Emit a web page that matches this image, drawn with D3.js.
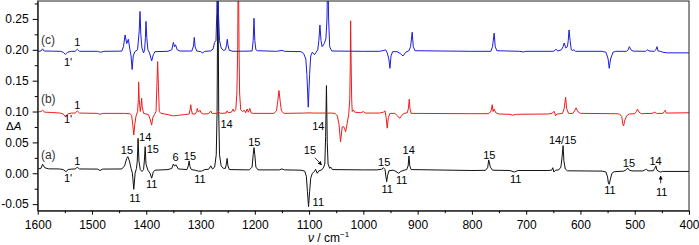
<!DOCTYPE html>
<html>
<head>
<meta charset="utf-8">
<script src="https://cdn.jsdelivr.net/npm/d3@7"></script>
<style>
  body { margin: 0; background: #fff; }
  svg text { font-family: "Liberation Sans", Arial, sans-serif; }
</style>
</head>
<body>
<div id="chart"></div>
<script>
// axis ticks
let xTicks = [1600, 1500, 1400, 1300, 1200, 1100, 1000, 900, 800, 700, 600, 500, 400];
let xMinor = [1550, 1450, 1350, 1250, 1150, 1050, 950, 850, 750, 650, 550, 450];
let yTicks = [-0.05, 0.00, 0.05, 0.10, 0.15, 0.20, 0.25];
let yMinor = [-0.025, 0.025, 0.075, 0.125, 0.175, 0.225, 0.275];

// spectrum (a), black : [wavenumber, dA]
let traceA = [
  [1600,0.007],[1594,0.008],[1591,0.0146],[1587,0.009],[1580,0.0072],
  [1560,0.007],[1553,0.006],[1548,0.0026],[1544,0.006],[1538,0.0068],
  [1531,0.007],[1527,0.0097],[1523,0.007],
  [1490,0.0068],[1485,0.0045],[1480,0.0068],
  [1445,0.007],[1440,0.012],[1436,0.024],[1434,0.027],[1431,0.02],[1428,0.008],
  [1425.5,0.0],[1423,-0.026],[1420.5,0.0],[1418,0.008],
  [1416.5,0.02],[1415,0.0567],[1413.5,0.02],[1411,0.006],[1408,0.003],[1405,0.006],
  [1403.5,0.02],[1402,0.043],[1400.5,0.015],[1397,0.005],
  [1393,0.0],[1390,-0.008],[1387,0.002],[1384,0.005],
  [1360,0.006],[1353,0.008],[1350,0.015],[1348,0.012],[1345,0.0135],[1341,0.007],
  [1325,0.006],[1322.5,0.012],[1321,0.020],[1319.5,0.011],[1317,0.006],
  [1310,0.005],[1304,0.0035],[1298,0.0035],[1292,0.006],
  [1285,0.0065],[1281,0.012],[1278,0.007],
  [1274,0.01],[1271,0.03],[1269.5,0.1],[1268,0.34],[1266.5,0.1],[1265,0.03],[1262,0.012],[1258,0.008],
  [1254,0.008],[1252.5,0.015],[1251,0.024],[1249.5,0.012],[1247,0.006],
  [1210,0.0055],[1205,0.01],[1203,0.03],[1201.5,0.0415],[1200,0.03],[1198,0.01],[1194,0.0055],
  [1155,0.0055],[1150,0.007],[1145,0.0055],
  [1115,0.005],[1108,0.0035],[1105,-0.005],[1103,-0.03],[1101,-0.054],[1099,-0.03],[1097,-0.008],[1094,0.0],
  [1090,0.003],[1088,0.0065],[1085,0.0],[1082,0.004],[1078,0.005],[1074,0.008],
  [1071,0.015],[1069.5,0.06],[1068,0.142],[1066.5,0.05],[1065,0.015],[1062,0.008],[1060,0.01],[1057,0.006],
  [1000,0.0055],[975,0.0055],[966,0.0065],[963,0.009],[960,0.006],[958.5,-0.005],[957,-0.0136],[955.5,-0.004],[953,0.004],
  [945,0.005],[940,0.003],[935,0.0],[931,0.003],[925,0.005],
  [920,0.006],[917.5,0.012],[916,0.028],[914.5,0.012],[912,0.006],
  [800,0.0045],[775,0.0048],[771,0.009],[769,0.0216],[766,0.01],[762,0.005],
  [730,0.0045],[722,0.002],[715,0.0045],
  [660,0.0045],[653,0.005],[651,0.009],[649,0.002],[646,0.005],
  [640,0.0055],[636,0.01],[634,0.025],[632,0.0447],[630.5,0.02],[628,0.007],[624,0.004],
  [560,0.0035],[553,0.002],[550,-0.006],[548.5,-0.016],[547,-0.0178],[545,-0.01],[542,0.0],[538,0.0025],
  [520,0.0035],[515,0.006],[513,0.0086],[510,0.005],[505,0.0038],
  [485,0.0038],[480,0.006],[478,0.0065],[476,0.004],
  [466,0.004],[463,0.008],[461,0.012],[459,0.005],[455,0.0028],[452,0.002],[449,0.003],
  [400,0.003]
];

// spectrum (b), red
let traceB = [
  [1600,0.0994],[1594,0.1],[1591,0.102],[1587,0.099],[1575,0.0985],
  [1558,0.0975],[1553,0.096],[1549,0.092],[1545,0.096],[1538,0.0975],
  [1531,0.0975],[1527,0.101],[1523,0.0975],
  [1490,0.097],[1485,0.0955],[1480,0.097],
  [1440,0.097],[1430,0.0965],[1427,0.094],[1425,0.08],[1423,0.062],[1421,0.08],[1419,0.092],
  [1416,0.1],[1414.5,0.12],[1414,0.148],[1413,0.12],[1411,0.1],[1409.5,0.11],[1408.5,0.1215],[1407.5,0.108],[1405,0.097],
  [1396,0.095],[1393,0.088],[1390,0.078],[1388,0.09],[1385,0.095],
  [1382,0.1],[1380.5,0.14],[1379,0.181],[1377.5,0.14],[1376,0.1],[1373,0.097],[1369,0.0965],
  [1360,0.095],[1350,0.093],[1340,0.094],[1330,0.095],
  [1321,0.096],[1319,0.104],[1318,0.111],[1317,0.104],[1315,0.096],
  [1310,0.096],[1307,0.1],[1306,0.105],[1304,0.099],[1301,0.102],[1299,0.098],[1295,0.096],
  [1285,0.0965],[1282,0.1],[1281,0.101],[1279,0.097],
  [1270,0.097],[1266,0.099],[1263,0.097],
  [1253,0.0975],[1251,0.101],[1249,0.098],
  [1243,0.099],[1240,0.104],[1238,0.1],[1235,0.103],[1233,0.13],[1231.5,0.2],[1230.4,0.36],[1229,0.2],[1228,0.13],[1226,0.103],[1223,0.1],
  [1219,0.102],[1217,0.098],[1214,0.104],[1212,0.099],[1209,0.105],[1207,0.098],[1203,0.097],
  [1165,0.097],[1160,0.101],[1158,0.115],[1155.5,0.134],[1153,0.115],[1151,0.101],[1146,0.097],
  [1110,0.0975],[1100,0.0978],[1090,0.0975],[1060,0.0975],[1052,0.097],[1048,0.093],[1045,0.08],
  [1042,0.051],[1039,0.075],[1036,0.0755],[1034.5,0.072],[1032.6,0.0674],[1030,0.08],[1027,0.095],
  [1025,0.12],[1024,0.18],[1023.4,0.247],[1022.5,0.18],[1021.5,0.12],[1020.5,0.1],[1018.6,0.1026],[1016,0.099],
  [1005,0.098],[1000,0.0998],[996,0.0975],
  [970,0.0975],[963,0.099],[960,0.101],[958,0.09],[956,0.073],[954,0.09],[951,0.097],
  [942,0.097],[937,0.093],[933,0.089],[929,0.094],[925,0.097],
  [919,0.098],[917,0.105],[915.4,0.12],[914,0.104],[912,0.097],
  [800,0.0965],[770,0.0965],[765,0.1],[762.5,0.111],[761,0.1],[759,0.104],[756,0.098],[750,0.096],
  [730,0.0955],[725,0.094],[718,0.0955],
  [660,0.096],[652,0.097],[650,0.0995],[648,0.1],[646,0.093],[643,0.096],
  [633,0.097],[630,0.105],[627.3,0.123],[625.5,0.105],[622,0.097],
  [614,0.097],[611,0.101],[608,0.106],[605,0.1],[600,0.097],
  [535,0.0965],[528,0.096],[524,0.092],[522,0.08],[520.5,0.0767],[518.5,0.085],[515,0.093],[510,0.096],
  [500,0.0965],[497,0.1],[495,0.104],[492,0.099],[488,0.0965],
  [468,0.097],[463,0.099],[460,0.097],
  [448,0.097],[445.5,0.1],[444,0.102],[442,0.0975],
  [400,0.098]
];

// spectrum (c), blue
let traceC = [
  [1600,0.1976],[1594,0.198],[1591,0.2015],[1588,0.198],[1575,0.1978],
  [1558,0.1975],[1553,0.196],[1549,0.1925],[1545,0.196],[1538,0.1975],
  [1531,0.1975],[1527,0.201],[1523,0.1975],
  [1490,0.1975],[1484,0.196],[1478,0.1975],
  [1445,0.1978],[1442,0.205],[1439,0.224],[1436,0.21],[1433,0.217],[1430,0.2],[1428,0.19],[1426,0.168],[1424,0.19],[1421,0.197],
  [1416,0.2],[1413,0.23],[1411.5,0.262],[1410,0.225],[1408,0.203],[1405,0.195],[1403,0.2],[1401.5,0.22],[1400.5,0.246],[1399,0.22],[1397,0.2],
  [1394,0.195],[1390,0.182],[1387,0.192],[1384,0.197],
  [1360,0.1975],[1353,0.2],[1350,0.212],[1348,0.205],[1346,0.208],[1343,0.2],[1338,0.198],
  [1316,0.198],[1313,0.206],[1311.5,0.22],[1310,0.205],[1307,0.198],
  [1300,0.197],[1296,0.195],[1292,0.1975],
  [1282,0.198],[1277,0.201],[1274,0.212],[1271.5,0.215],[1270,0.26],[1268.5,0.36],[1267,0.26],[1265,0.215],[1262,0.203],[1258,0.199],
  [1254,0.2],[1252,0.208],[1250.7,0.217],[1249.5,0.208],[1247,0.199],
  [1240,0.1975],[1205,0.198],[1203,0.215],[1201.5,0.251],[1200,0.215],[1198,0.2],[1195,0.1985],
  [1160,0.1975],[1150,0.199],[1145,0.1975],
  [1115,0.197],[1110,0.194],[1106,0.185],[1104,0.16],[1101.5,0.107],[1099,0.16],[1097,0.19],[1094,0.196],
  [1090,0.192],[1087,0.196],[1084,0.2],[1082,0.215],[1080,0.240],[1078,0.215],[1076,0.205],[1072,0.21],[1069,0.218],
  [1067,0.25],[1065.5,0.34],[1064,0.25],[1062,0.205],[1060,0.201],[1058,0.198],
  [1000,0.1975],[970,0.1975],[962,0.199],[959,0.2],[956,0.195],[953,0.185],[951,0.170],[949,0.19],[946,0.197],
  [938,0.197],[932,0.194],[927,0.19],[922,0.196],[916,0.1985],
  [913,0.205],[910,0.2285],[908,0.205],[905,0.1985],
  [800,0.1975],[765,0.1975],[762,0.205],[759,0.227],[757,0.205],[754,0.1985],
  [712,0.1975],[705,0.1965],[700,0.1975],
  [650,0.1975],[647,0.199],[645,0.201],[642,0.198],
  [635,0.2],[632,0.205],[630,0.211],[627,0.203],[624,0.205],[622.5,0.215],[621,0.232],[619,0.215],[617,0.2],[614,0.199],[612,0.2],[609,0.1975],
  [560,0.1975],[553,0.196],[549,0.185],[547,0.170],[544.5,0.185],[540,0.196],[535,0.1975],
  [515,0.1975],[512,0.2],[510,0.205],[507,0.2],[503,0.1978],
  [480,0.1975],[478,0.199],[476,0.2],[474,0.198],
  [464,0.1975],[461,0.2],[459,0.205],[457,0.198],[453,0.1975],
  [448,0.196],[440,0.195],[400,0.195]
];

// band labels : [wavenumber, dA, text]
let labelsA = [
  [1527,0.0135,"1"],[1544,-0.0141,"1'"],[1435.5,0.0313,"15"],[1402,0.0523,"14"],
  [1388,0.0329,"15"],[1390,-0.0238,"11"],[1420.7,-0.0466,"11"],[1345.8,0.0199,"6"],
  [1319.4,0.0216,"15"],[1301,-0.0157,"11"],[1252,0.0734,"14"],[1201,0.0442,"15"],
  [1098.4,0.0313,"15"],[1083,0.0702,"14"],[1083,-0.053,"11"],[961.5,0.0118,"15"],
  [956,-0.0319,"11"],[929.4,-0.017,"11"],[916.5,0.0313,"14"],[768,0.0232,"15"],
  [719.4,-0.0157,"11"],[632.8,0.0475,"14/15"],[545.7,-0.0336,"11"],[510.7,0.0102,"15"],
  [461.5,0.0135,"14"],[450.4,-0.0368,"11"]
];
let labelsB = [[1527,0.1042,"1"],[1544,0.0815,"1'"]];
let labelsC = [[1527,0.2063,"1"],[1544,0.1739,"1'"]];
let traceNames = [[1594,0.0232,"(a)"],[1594,0.1139,"(b)"],[1594,0.2096,"(c)"]];

// arrows : [from, to]
let arrows = [
  [[1089.2,0.0253],[1076.9,0.0135]],
  [[452.2,-0.0162],[452.2,-0.0044]]
];

let width = 699,
    height = 245;
let plotLeft = 37.7, plotRight = 689, plotTop = 1, plotBottom = 210.7;

let svg = d3.select("#chart")
    .append("svg")
    .attr("width", width)
    .attr("height", height);

let x = d3.scaleLinear()
    .domain([1600, 400])
    .range([plotLeft, plotRight]);

let y = d3.scaleLinear()
    .domain([-0.0606, 0.279])
    .range([plotBottom, plotTop]);

svg.append("clipPath")
    .attr("id", "plotclip")
    .append("rect")
    .attr("x", plotLeft).attr("y", plotTop)
    .attr("width", plotRight - plotLeft).attr("height", plotBottom - plotTop);

// spectra
let line = d3.line()
    .x(function(d) { return x(d[0]); })
    .y(function(d) { return y(d[1]); });

let traces = [[traceA, "#111111"], [traceB, "#ee1c1c"], [traceC, "#1c1cdd"]];
traces.forEach(function(t) {
  svg.append("path")
      .datum(t[0])
      .attr("clip-path", "url(#plotclip)")
      .attr("fill", "none")
      .attr("stroke", t[1])
      .attr("stroke-width", 1)
      .attr("stroke-linejoin", "round")
      .attr("d", line);
});

// frame
svg.append("rect")
    .attr("x", plotLeft).attr("y", plotTop)
    .attr("width", plotRight - plotLeft).attr("height", plotBottom - plotTop)
    .attr("fill", "none")
    .attr("stroke", "#222")
    .attr("stroke-width", 1);

// X axis
svg.append("g")
    .attr("transform", "translate(0," + plotBottom + ")")
    .call(d3.axisBottom(x).tickValues(xTicks).tickSize(4).tickSizeOuter(0).tickPadding(6)
      .tickFormat(function(d) { return d; }))
    .attr("font-size", 12)
    .attr("font-family", "Liberation Sans, Arial, sans-serif")
    .call(function(g) { g.select(".domain").attr("stroke", "#222"); });
svg.append("g")
    .attr("transform", "translate(0," + plotBottom + ")")
    .call(d3.axisBottom(x).tickValues(xMinor).tickSize(2.5).tickFormat(""))
    .call(function(g) { g.select(".domain").remove(); });

// Y axis
svg.append("g")
    .attr("transform", "translate(" + plotLeft + ",0)")
    .call(d3.axisLeft(y).tickValues(yTicks).tickSize(5).tickSizeOuter(0).tickPadding(4)
      .tickFormat(function(d) { return d.toFixed(2); }))
    .attr("font-size", 12)
    .attr("font-family", "Liberation Sans, Arial, sans-serif")
    .call(function(g) { g.select(".domain").attr("stroke", "#222"); });
svg.append("g")
    .attr("transform", "translate(" + plotLeft + ",0)")
    .call(d3.axisLeft(y).tickValues(yMinor).tickSize(3).tickFormat(""))
    .call(function(g) { g.select(".domain").remove(); });

// axis titles
let yt = svg.append("text")
    .attr("x", 6).attr("y", 129.5)
    .attr("font-size", 11.5);
yt.append("tspan").text("\u0394");
yt.append("tspan").attr("font-style", "italic").text("A");

let xt = svg.append("text")
    .attr("x", 308).attr("y", 242)
    .attr("font-size", 12);
xt.append("tspan").attr("font-style", "italic").text("\u03bd");
xt.append("tspan").text(" / cm");
xt.append("tspan").attr("font-size", 8).attr("dy", -5).text("\u22121");

// band labels
svg.selectAll("text.band")
    .data(labelsA.concat(labelsB, labelsC))
    .enter()
    .append("text")
    .attr("class", "band")
    .attr("x", function(d) { return x(d[0]); })
    .attr("y", function(d) { return y(d[1]); })
    .attr("text-anchor", "middle")
    .attr("font-size", 11)
    .text(function(d) { return d[2]; });

svg.selectAll("text.trace")
    .data(traceNames)
    .enter()
    .append("text")
    .attr("class", "trace")
    .attr("x", function(d) { return x(d[0]); })
    .attr("y", function(d) { return y(d[1]); })
    .attr("font-size", 12)
    .attr("fill", "#333")
    .text(function(d) { return d[2]; });

// arrows
svg.append("defs").append("marker")
    .attr("id", "head")
    .attr("viewBox", "0 0 10 10")
    .attr("refX", 9).attr("refY", 5)
    .attr("markerWidth", 5).attr("markerHeight", 5)
    .attr("orient", "auto")
    .append("path")
    .attr("d", "M0,0L10,5L0,10Z")
    .attr("fill", "#000");

svg.selectAll("line.arrow")
    .data(arrows)
    .enter()
    .append("line")
    .attr("class", "arrow")
    .attr("x1", function(d) { return x(d[0][0]); })
    .attr("y1", function(d) { return y(d[0][1]); })
    .attr("x2", function(d) { return x(d[1][0]); })
    .attr("y2", function(d) { return y(d[1][1]); })
    .attr("stroke", "#000")
    .attr("stroke-width", 0.8)
    .attr("marker-end", "url(#head)");
</script>
</body>
</html>
